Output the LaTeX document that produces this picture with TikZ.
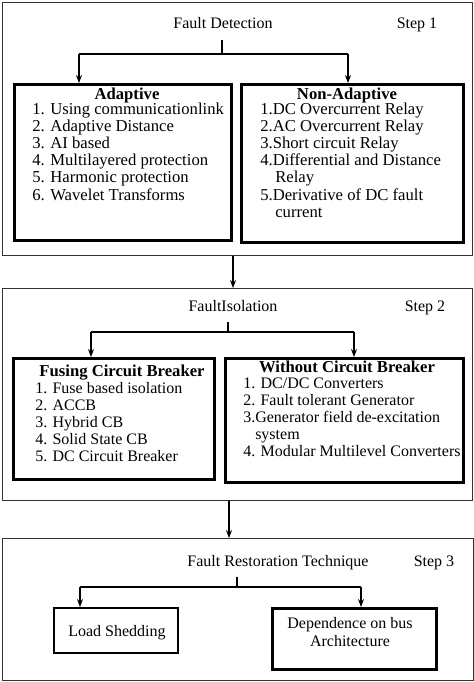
\documentclass[tikz,border=0pt]{standalone}
\usepackage{fontspec}
\setmainfont{Liberation Serif}
\usetikzlibrary{arrows.meta}
\begin{document}
\begin{tikzpicture}[x=0.75pt,y=-0.75pt,
  txt/.style={inner sep=0pt, text height=8.5pt, text depth=2.5pt, font=\fontsize{12}{13}\selectfont},
  itm/.style={txt, anchor=west, font=\fontsize{12.5}{13}\selectfont},
  itmb/.style={txt, anchor=west, font=\fontsize{12}{13}\selectfont},
  ttl/.style={txt, font=\fontsize{12.5}{13}\selectfont\bfseries},
  frame/.style={draw=black!80, line width=0.9pt, inner sep=0pt, anchor=north west},
  box/.style={draw, line width=2pt, inner sep=0pt, anchor=north west},
  boxthin/.style={draw, line width=1.5pt, inner sep=0pt, anchor=north west},
  arr/.style={-{Stealth[length=6pt,width=4.5pt]}, line width=0.8pt},
  ln/.style={line width=0.8pt}]
\useasboundingbox (0,0) rectangle (474,682);

% ---------- frames ----------
\node[frame, minimum width=352.5pt, minimum height=189.75pt] (f1) at (2,2) {};
\node[frame, minimum width=352.5pt, minimum height=159pt] (f2) at (2,288) {};
\node[frame, minimum width=353.25pt, minimum height=106.5pt] (f3) at (2,538) {};

% ---------- step 1 ----------
\node[txt] (fd) at (223,24) {Fault Detection};
\node[txt] (s1) at (417,24) {Step 1};
\node[box, minimum width=162.75pt, minimum height=117pt] (ad) at (13,83) {};
\node[box, minimum width=166.5pt, minimum height=118.5pt] (na) at (240,83) {};

\coordinate (v1t) at (222,40);
\coordinate (v1b) at (222,54);
\coordinate (b1l) at (79,54);
\coordinate (b1r) at (348,54);
\draw[ln] (v1t) -- (v1b);
\draw[ln] (b1l) -- (b1r);
\draw[arr] (b1l) -- (b1l |- ad.north);
\draw[arr] (b1r) -- (b1r |- na.north);

\node[ttl] (adt) at (127,95) {Adaptive};
\node[itm] (a1) at (32,110) {1. Using communicationlink};
\node[itm] (a2) at (32,127.2) {2. Adaptive Distance};
\node[itm] (a3) at (32,144.4) {3. AI based};
\node[itm] (a4) at (32,161.6) {4. Multilayered protection};
\node[itm] (a5) at (32,178.8) {5. Harmonic protection};
\node[itm] (a6) at (32,196) {6. Wavelet Transforms};

\node[ttl] (nat) at (347,95) {Non-Adaptive};
\node[itm] (n1) at (260,110) {1.DC Overcurrent Relay};
\node[itm] (n2) at (260,127.2) {2.AC Overcurrent Relay};
\node[itm] (n3) at (260,144.4) {3.Short circuit Relay};
\node[itm] (n4) at (260,161.6) {4.Differential and Distance};
\node[itm] (n4b) at (275,178.8) {Relay};
\node[itm] (n5) at (260,196) {5.Derivative of DC fault};
\node[itm] (n5b) at (275,213.2) {current};

% step 1 -> step 2
\coordinate (c12) at (233,0);
\draw[arr] (f1.south -| c12) -- (f2.north -| c12);

% ---------- step 2 ----------
\node[txt] (fi) at (233,307) {FaultIsolation};
\node[txt] (s2) at (425,307) {Step 2};
\node[box, minimum width=150.75pt, minimum height=90.75pt] (fc) at (12,357) {};
\node[box, minimum width=178.5pt, minimum height=93pt] (wc) at (224,357) {};

\coordinate (v2t) at (228,322);
\coordinate (v2b) at (228,332);
\coordinate (b2l) at (91,332);
\coordinate (b2r) at (354,332);
\draw[ln] (v2t) -- (v2b);
\draw[ln] (b2l) -- (b2r);
\draw[arr] (b2l) -- (b2l |- fc.north);
\draw[arr] (b2r) -- (b2r |- wc.north);

\node[ttl] (fct) at (122,372) {Fusing Circuit Breaker};
\node[itmb] (c1) at (35,389) {1. Fuse based isolation};
\node[itmb] (c2) at (35,406) {2. ACCB};
\node[itmb] (c3) at (35,423) {3. Hybrid CB};
\node[itmb] (c4) at (35,440) {4. Solid State CB};
\node[itmb] (c5) at (35,457) {5. DC Circuit Breaker};

\node[ttl] (wct) at (347,368) {Without Circuit Breaker};
\node[itmb] (w1) at (243,384) {1. DC/DC Converters};
\node[itmb] (w2) at (243,401) {2. Fault tolerant Generator};
\node[itmb] (w3) at (243,418) {3.Generator field de-excitation};
\node[itmb] (w3b) at (255,435) {system};
\node[itmb] (w4) at (243,452) {4. Modular Multilevel Converters};

% step 2 -> step 3
\coordinate (c23) at (229,0);
\draw[arr] (f2.south -| c23) -- (f3.north -| c23);

% ---------- step 3 ----------
\node[txt] (fr) at (278,562) {Fault Restoration Technique};
\node[txt] (s3) at (434,562) {Step 3};
\node[boxthin, minimum width=93pt, minimum height=33.75pt] (ls) at (53,607) {};
\node[box, minimum width=123pt, minimum height=45.75pt] (db) at (271,607) {};

\coordinate (v3t) at (237,577);
\coordinate (v3b) at (237,587);
\coordinate (b3l) at (80,587);
\coordinate (b3r) at (361,587);
\draw[ln] (v3t) -- (v3b);
\draw[ln] (b3l) -- (b3r);
\draw[arr] (b3l) -- (b3l |- ls.north);
\draw[arr] (b3r) -- (b3r |- db.north);

\node[txt] (lst) at (117,632) {Load Shedding};
\node[txt] (dbt1) at (350,624) {Dependence on bus};
\node[txt] (dbt2) at (350,642) {Architecture};
\end{tikzpicture}
\end{document}
